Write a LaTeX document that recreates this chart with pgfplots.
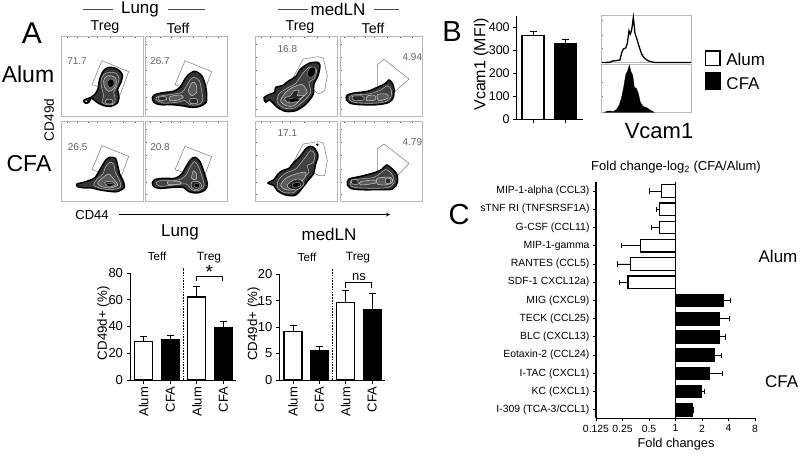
\documentclass[border=0pt]{standalone}
\usepackage{fontspec}
\setmainfont{Liberation Sans}
\usepackage{pgfplots}
\pgfplotsset{compat=1.18}
\newcommand\fs[1]{\fontsize{#1}{#1}\selectfont}
\pgfplotsset{
 facs/.style={scale only axis,width=82pt,height=80pt,y dir=reverse,clip=false,
  axis line style={black!28,line width=.9pt},xticklabels={},yticklabels={},
  tick style={black!65,line width=.4pt},major tick length=1.5pt,tick align=inside,
  xtick pos=upper,ytick pos=lower},
 gate/.style={draw=black!50,line width=.55pt},
 outer/.style={smooth cycle,tension=.5,draw=black,line width=1.5pt,fill=black!80},
 r1/.style={smooth cycle,tension=.5,draw=black!30,line width=.55pt,fill=black!74},
 r2/.style={smooth cycle,tension=.5,draw=black!22,line width=.55pt,fill=black!64},
 r3/.style={smooth cycle,tension=.5,draw=black!22,line width=.5pt,fill=black!84},
 core/.style={smooth cycle,tension=.5,draw=black!40,line width=.4pt,fill=black},
 barax/.style={scale only axis,axis x line*=bottom,axis y line*=left,axis line style={-,line width=1pt},
  tick style={black,line width=1pt},major tick length=3.5pt,tick align=outside,
  /pgf/number format/assume math mode=true,clip=false,ymin=0,
  ybar,bar shift=0pt},
 werr/.style={fill=white,draw=black,line width=1.2pt},
 kerr/.style={fill=black,draw=black,line width=1.2pt},
 ebar/.style={error bars/.cd,y dir=plus,y explicit,
  error bar style={line width=.9pt,black},error mark options={black,line width=.9pt,mark size=3.5pt,rotate=90}},
 hbar/.style={error bars/.cd,x dir=#1,x explicit,
  error bar style={line width=.9pt,black},error mark options={black,line width=.9pt,mark size=2.6pt,rotate=90}},
}
\begin{document}
\begin{tikzpicture}[x=1pt,y=1pt]
\useasboundingbox (0,0) rectangle (800,453);
% ---- FACS panels (coordinates in 3x pixels of the panel)
\begin{axis}[facs,at={(61pt,336.33pt)},anchor=south west,xmin=2,xmax=248,ymin=8,ymax=248,xtick={22,50,85,110,150,190,225},ytick={30,70,110,150,190,225}]
\addplot[gate] coordinates {(125,80)(205,113)(180,180)(95,152)} -- cycle;
\addplot[outer] coordinates {(150,100)(172,106)(186,122)(182,145)(172,165)(176,190)(170,208)(150,217)(128,214)(112,206)(100,197)(92,192)(86,205)(75,207)(70,200)(78,195)(92,190)(103,182)(113,165)(117,140)(125,118)(135,105)};
\addplot[r1] coordinates {(148,115)(168,118)(176,135)(168,160)(160,175)(165,195)(160,210)(140,212)(125,205)(130,185)(125,165)(122,140)(130,122)};
\addplot[r2] coordinates {(148,125)(164,130)(168,145)(160,165)(145,172)(133,160)(130,140)(137,128)};
\addplot[core] coordinates {(148,135)(160,140)(160,155)(148,160)(140,150)};
\addplot[r3] coordinates {(140,196)(155,197)(157,208)(142,210)(134,204)};
\addplot[draw=black,fill=white,line width=.9pt] coordinates {(72,198)(80,198)(84,203)(76,206)} -- cycle;
\node[font=\fs{10},text=black!62] at (axis cs:50,82) {71.7};
\end{axis}
\begin{axis}[facs,at={(145pt,336.33pt)},anchor=south west,xmin=255,xmax=501,ymin=8,ymax=248,xtick={272,300,335,360,400,440,475},ytick={30,70,110,150,190,225}]
\addplot[gate] coordinates {(375,80)(455,113)(430,180)(345,152)} -- cycle;
\addplot[outer] coordinates {(405,112)(425,125)(435,150)(440,180)(438,205)(420,217)(395,220)(365,215)(335,212)(300,212)(282,205)(277,192)(285,182)(310,176)(340,172)(360,160)(372,140)(385,122)};
\addplot[r1] coordinates {(402,130)(418,140)(425,170)(428,200)(415,212)(390,212)(375,200)(350,205)(310,207)(288,197)(295,187)(330,182)(365,175)(380,155)(390,138)};
\addplot[r2] coordinates {(397,145)(408,150)(410,175)(395,185)(385,170)};
\addplot[r3] coordinates {(390,195)(410,195)(412,207)(392,208)};
\addplot[r2] coordinates {(330,188)(360,183)(370,190)(355,198)(330,200)};
\addplot[r3] coordinates {(295,190)(315,188)(320,196)(300,200)};
\node[font=\fs{10},text=black!62] at (axis cs:300,82) {26.7};
\end{axis}
\begin{axis}[facs,at={(61pt,251.67pt)},anchor=south west,xmin=2,xmax=248,ymin=7,ymax=247,xtick={22,50,85,110,150,190,225},ytick={30,70,110,150,190,225}]
\addplot[gate] coordinates {(125,80)(205,112)(180,180)(95,152)} -- cycle;
\addplot[outer] coordinates {(148,115)(165,118)(172,140)(178,165)(188,185)(192,205)(170,218)(140,216)(115,212)(95,207)(75,207)(52,203)(50,195)(70,190)(90,183)(105,175)(120,150)(135,125)};
\addplot[r1] coordinates {(148,130)(160,135)(165,160)(178,185)(180,205)(150,212)(120,208)(100,198)(112,178)(128,165)(135,145)};
\addplot[r2] coordinates {(125,178)(145,165)(160,180)(172,198)(150,207)(125,203)(112,193)};
\addplot[r3] coordinates {(133,190)(155,187)(165,197)(145,204)};
\addplot[core] coordinates {(140,195)(155,193)(158,200)(142,202)};
\node[font=\fs{10},text=black!62] at (axis cs:52,85) {26.5};
\end{axis}
\begin{axis}[facs,at={(145pt,251.67pt)},anchor=south west,xmin=255,xmax=501,ymin=7,ymax=247,xtick={272,300,335,360,400,440,475},ytick={30,70,110,150,190,225}]
\addplot[gate] coordinates {(375,82)(455,113)(430,180)(345,152)} -- cycle;
\addplot[outer] coordinates {(405,115)(420,128)(432,160)(442,195)(435,213)(410,222)(385,217)(370,205)(340,205)(300,208)(282,203)(277,192)(285,182)(310,178)(345,178)(365,165)(380,140)(392,122)};
\addplot[r1] coordinates {(403,128)(415,142)(425,170)(432,200)(415,215)(395,212)(378,195)(340,198)(300,202)(288,192)(300,185)(345,185)(375,172)(390,145)};
\addplot[r2] coordinates {(400,155)(410,165)(408,182)(395,178)};
\addplot[r3] coordinates {(395,190)(415,188)(425,200)(410,212)(395,205)};
\addplot[core] coordinates {(403,195)(418,195)(418,204)(405,205)};
\addplot[r2] coordinates {(325,186)(360,188)(360,195)(325,197)};
\node[font=\fs{10},text=black!62] at (axis cs:300,85) {20.8};
\end{axis}
\begin{axis}[facs,at={(255pt,336.33pt)},anchor=south west,xmin=3,xmax=249,ymin=8,ymax=248,xtick={22,50,85,110,150,190,225},ytick={30,70,110,150,190,225}]
\addplot[gate] coordinates {(118,130)(148,75)(192,68)(208,72)(220,125)(212,170)(195,180)} -- cycle;
\addplot[outer] coordinates {(190,85)(198,95)(192,125)(180,150)(178,180)(165,200)(150,215)(125,230)(95,232)(70,220)(55,205)(45,198)(35,205)(30,192)(42,183)(62,175)(65,160)(85,155)(105,140)(125,128)(140,105)(165,88)};
\addplot[r1] coordinates {(180,100)(188,110)(180,135)(165,145)(170,175)(150,200)(120,222)(90,222)(70,205)(75,180)(100,162)(125,148)(145,120)(165,100)};
\addplot[core] coordinates {(170,100)(185,103)(180,125)(165,130)(160,115)};
\addplot[r2] coordinates {(120,158)(145,152)(160,175)(145,190)(120,215)(95,215)(80,200)(95,175)};
\addplot[r3] coordinates {(120,170)(135,170)(130,185)(150,185)(120,205)(100,205)(92,192)(110,185)};
\addplot[core] coordinates {(105,195)(130,192)(135,200)(110,205)};
\node[font=\fs{10},text=black!62] at (axis cs:100,45) {16.8};
\end{axis}
\begin{axis}[facs,at={(340pt,336.33pt)},anchor=south west,xmin=258,xmax=504,ymin=8,ymax=248,xtick={272,300,335,360,400,440,475},ytick={30,70,110,150,190,225}]
\addplot[gate] coordinates {(370,92)(390,76)(465,135)(420,175)(370,160)} -- cycle;
\addplot[outer] coordinates {(405,138)(415,148)(420,165)(418,190)(405,205)(370,212)(320,212)(290,208)(278,198)(278,185)(295,178)(340,172)(370,160)(395,148)};
\addplot[r1] coordinates {(400,155)(412,168)(410,190)(395,203)(350,208)(300,205)(285,195)(295,183)(345,180)(380,168)};
\addplot[r2] coordinates {(370,182)(398,180)(402,192)(375,200)};
\addplot[r2] coordinates {(340,186)(362,184)(365,197)(338,200)};
\addplot[r3] coordinates {(295,187)(325,186)(330,197)(300,200)};
\node[font=\fs{10},text=black!62] at (axis cs:475,68) {4.94};
\end{axis}
\begin{axis}[facs,at={(255pt,251.67pt)},anchor=south west,xmin=3,xmax=249,ymin=7,ymax=247,xtick={22,50,85,110,150,190,225},ytick={30,70,110,150,190,225}]
\addplot[gate] coordinates {(118,130)(148,75)(192,68)(208,72)(220,125)(212,170)(195,170)} -- cycle;
\addplot[outer] coordinates {(168,82)(182,88)(192,110)(185,135)(178,165)(165,180)(150,200)(125,228)(95,228)(70,215)(60,200)(42,192)(60,182)(72,165)(85,155)(105,148)(115,135)(140,110)(155,90)};
\addplot[r1] coordinates {(170,95)(182,105)(178,130)(160,140)(165,160)(150,175)(140,195)(120,220)(90,220)(70,205)(75,180)(100,160)(125,150)(150,120)};
\addplot[r2] coordinates {(125,165)(155,160)(150,180)(130,195)(120,212)(95,212)(80,200)(95,178)};
\addplot[r3] coordinates {(115,185)(135,180)(150,195)(130,212)(105,208)(100,198)};
\addplot[core] coordinates {(115,195)(135,190)(140,200)(120,205)};
\addplot[only marks,mark=*,mark size=1pt,black] coordinates {(190,77)};
\node[font=\fs{10},text=black!62] at (axis cs:100,42) {17.1};
\end{axis}
\begin{axis}[facs,at={(340pt,251.67pt)},anchor=south west,xmin=258,xmax=504,ymin=7,ymax=247,xtick={272,300,335,360,400,440,475},ytick={30,70,110,150,190,225}]
\addplot[gate] coordinates {(370,90)(390,75)(465,133)(425,175)(370,155)} -- cycle;
\addplot[outer] coordinates {(398,138)(415,150)(428,165)(430,190)(415,210)(370,212)(320,212)(290,208)(280,195)(285,180)(320,172)(365,160)(385,150)};
\addplot[r1] coordinates {(395,152)(415,168)(420,190)(405,205)(360,208)(300,205)(288,193)(300,182)(360,175)};
\addplot[r2] coordinates {(370,178)(410,175)(415,190)(395,198)(370,195)};
\addplot[r3] coordinates {(395,178)(410,180)(408,192)(395,192)};
\addplot[r2] coordinates {(320,188)(360,183)(365,192)(320,198)};
\addplot[r3] coordinates {(292,183)(310,183)(312,195)(295,195)};
\node[font=\fs{10},text=black!62] at (axis cs:475,68) {4.79};
\end{axis}
% ---- Lung bars
\begin{axis}[barax,at={(130pt,73pt)},anchor=south west,width=106pt,height=107pt,bar width=18pt,
 xmin=-0.515,xmax=3.47,ymax=80,ytick={0,20,40,60,80},xtick={0,1,2,3},xticklabels={Alum,CFA,Alum,CFA},
 xticklabel style={rotate=90,anchor=east,font=\fs{13}},yticklabel style={font=\fs{13}},
 ylabel={CD49d+ (\%)},ylabel style={font=\fs{13.3},at={(axis description cs:-0.16,0.53)},anchor=south}]
\addplot[werr,ebar] coordinates {(0,29)+-(0,3.2) (2,62)+-(0,8.3)};
\addplot[kerr,ebar] coordinates {(1,30.5)+-(0,2.5) (3,39)+-(0,4.6)};
\addplot[black,dashed,line width=.7pt,dash pattern=on 1.6pt off 1.2pt,sharp plot] coordinates {(1.5,0)(1.5,84)};
\addplot[black,line width=.9pt,sharp plot] coordinates {(2,74)(2,77.5)(2.95,77.5)(2.95,74)};
\node[font=\fs{19}] at (axis cs:2.47,80.5) {*};
\end{axis}
% ---- medLN bars
\begin{axis}[barax,at={(279.3pt,73pt)},anchor=south west,width=105.7pt,height=105.7pt,bar width=18pt,
 xmin=-0.52,xmax=3.485,ymax=20,ytick={0,5,10,15,20},xtick={0,1,2,3},xticklabels={Alum,CFA,Alum,CFA},
 xticklabel style={rotate=90,anchor=east,font=\fs{13}},yticklabel style={font=\fs{13}},
 ylabel={CD49d+ (\%)},ylabel style={font=\fs{13.3},at={(axis description cs:-0.15,0.53)},anchor=south}]
\addplot[werr,ebar] coordinates {(0,9.2)+-(0,1.1) (2,14.7)+-(0,2.3)};
\addplot[kerr,ebar] coordinates {(1,5.5)+-(0,0.9) (3,13.4)+-(0,2.9)};
\addplot[black,dashed,line width=.7pt,dash pattern=on 1.6pt off 1.2pt,sharp plot] coordinates {(1.5,0)(1.5,21)};
\addplot[black,line width=.9pt,sharp plot] coordinates {(2,17.5)(2,18.4)(2.97,18.4)(2.97,17.5)};
\node[font=\fs{13}] at (axis cs:2.5,19.4) {ns};
\end{axis}
% ---- B bars
\begin{axis}[barax,at={(516.7pt,333.7pt)},anchor=south west,width=66pt,height=103.6pt,bar width=22pt,
 xmin=-0.505,xmax=1.54,ymax=450,ytick={0,100,200,300,400},xtick={0,1},xticklabels={},
 yticklabel style={font=\fs{12.5}},
 ylabel={Vcam1 (MFI)},ylabel style={font=\fs{16},at={(axis description cs:-0.37,0.53)},anchor=south}]
\addplot[werr,ebar] coordinates {(0,364)+-(0,16)};
\addplot[kerr,ebar] coordinates {(1,329)+-(0,17)};
\end{axis}
% ---- histograms
\begin{axis}[scale only axis,at={(601pt,390.5pt)},anchor=south west,width=90pt,height=47.5pt,y dir=reverse,clip=false,
 xmin=18,xmax=288,ymin=15,ymax=157.5,axis line style={black!28,line width=.8pt},xtick=\empty,ytick={30,75,115},yticklabels={},tick style={black!50,line width=.3pt},major tick length=1.5pt,tick align=inside,ytick pos=lower]
\addplot[black,line width=1.3pt,sharp plot] coordinates {(20,157.5)(45,157)(52,153)(62,152)(75,150)(80,128)(85,117)(92,114)(97,100)(102,62)(106,72)(110,60)(115,22)(120,70)(126,88)(133,112)(140,132)(147,143)(158,152)(172,156)(180,157.5)(288,157.5)};
\end{axis}
\begin{axis}[scale only axis,at={(601pt,340.7pt)},anchor=south west,width=90pt,height=48.3pt,y dir=reverse,clip=false,
 xmin=18,xmax=288,ymin=162,ymax=307,axis line style={black!28,line width=.8pt},xtick={45,75,110,150,190,230,265},ytick={215,260},xticklabels={},yticklabels={},tick style={black!50,line width=.3pt},major tick length=1.5pt,tick align=inside,ytick pos=lower,xtick pos=upper]
\addplot[fill=black,draw=black,line width=.3pt,sharp plot] coordinates {(28,307)(36,304)(45,303)(55,305)(65,298)(73,285)(80,262)(86,232)(92,195)(98,182)(103,165)(108,185)(113,195)(118,232)(124,235)(130,250)(136,277)(145,290)(155,293)(165,300)(178,307)} -- cycle;
\end{axis}
% ---- C
\begin{axis}[scale only axis,at={(596pt,34.7pt)},anchor=south west,width=159pt,height=236.6pt,y dir=reverse,clip=false,
 axis x line*=bottom,axis y line*=left,axis line style={-,line width=1.1pt},xbar,bar shift=0pt,bar width=12.4pt,
 tick style={black,line width=.9pt},major tick length=3pt,tick align=outside,
 /pgf/number format/assume math mode=true,
 xmin=-3,xmax=3,ymin=-0.51,ymax=12.46,xtick={-3,-2,-1,0,1,2,3},xticklabels={0.125,0.25,0.5,1,2,4,8},
 ytick={0,1,2,3,4,5,6,7,8,9,10,11,12},
 yticklabels={MIP-1-alpha (CCL3),sTNF RI (TNFSRSF1A),G-CSF (CCL11),MIP-1-gamma,RANTES (CCL5),SDF-1 CXCL12a),MIG (CXCL9),TECK (CCL25),BLC (CXCL13),Eotaxin-2 (CCL24),I-TAC (CXCL1),KC (CXCL1),I-309 (TCA-3/CCL1)},
 tick label style={font=\fs{10.4}}]
\addplot[werr,hbar=minus] coordinates {(-0.527,0)+-(0.452,0) (-0.59,1)+-(0.138,0) (-0.59,2)+-(0.30,0) (-1.317,3)+-(0.741,0) (-1.706,4)+-(0.49,0) (-1.794,5)+-(0.326,0)};
\addplot[kerr,hbar=plus] coordinates {(1.82,6)+-(0.25,0) (1.669,7)+-(0.364,0) (1.644,8)+-(0.226,0) (1.455,9)+-(0.289,0) (1.267,10)+-(0.515,0) (0.966,11)+-(0.124,0) (0.64,12)+-(0.025,0)};
\addplot[black,line width=1.1pt,sharp plot] coordinates {(0,-0.51)(0,12.46)};
\end{axis}
% ---- text and decorations in image pixels
\begin{axis}[scale only axis,at={(0pt,0pt)},anchor=south west,width=800pt,height=453pt,xmin=0,xmax=800,ymin=0,ymax=453,y dir=reverse,hide axis,clip=false]
\addplot[black!70,line width=.8pt,sharp plot] coordinates {(83,9)(113,9)};
\addplot[black!70,line width=.8pt,sharp plot] coordinates {(168,9)(205,9)};
\addplot[black!70,line width=.8pt,sharp plot] coordinates {(278,9)(308,9)};
\addplot[black!70,line width=.8pt,sharp plot] coordinates {(374,9)(399,9)};
\addplot[black,line width=.8pt,-stealth,sharp plot] coordinates {(119,214.5)(390,214.5)};
\addplot[draw=black,fill=white,line width=1.4pt] coordinates {(705.5,51)(720,51)(720,65.5)(705.5,65.5)} -- cycle;
\addplot[draw=black,fill=black,line width=1.2pt] coordinates {(705.5,73)(720,73)(720,89.5)(705.5,89.5)} -- cycle;
\node[font=\fs{30}] at (axis cs:32,33) {A};
\node[font=\fs{29}] at (axis cs:452,32) {B};
\node[font=\fs{29}] at (axis cs:459,215) {C};
\node[font=\fs{23}] at (axis cs:28,74) {Alum};
\node[font=\fs{23}] at (axis cs:29,164) {CFA};
\node[font=\fs{17}] at (axis cs:140,9) {Lung};
\node[font=\fs{17}] at (axis cs:338,9) {medLN};
\node[font=\fs{14.3}] at (axis cs:105,27) {Treg};
\node[font=\fs{14.3}] at (axis cs:178,28) {Teff};
\node[font=\fs{14.3}] at (axis cs:300,27) {Treg};
\node[font=\fs{14.3}] at (axis cs:373,28) {Teff};
\node[font=\fs{13.6},rotate=90] at (axis cs:49,120) {CD49d};
\node[font=\fs{13}] at (axis cs:92,215) {CD44};
\node[font=\fs{17}] at (axis cs:180,232) {Lung};
\node[font=\fs{17}] at (axis cs:329,234) {medLN};
\node[font=\fs{11.6}] at (axis cs:157,256) {Teff};
\node[font=\fs{12}] at (axis cs:209,258) {Treg};
\node[font=\fs{11.6}] at (axis cs:307,257) {Teff};
\node[font=\fs{12}] at (axis cs:358,258) {Treg};
\node[font=\fs{17}] at (axis cs:745.7,59.3) {Alum};
\node[font=\fs{17}] at (axis cs:743,84) {CFA};
\node[font=\fs{22}] at (axis cs:659,130.7) {Vcam1};
\node[font=\fs{13}] at (axis cs:676,166.7) {Fold change-log\textsubscript{2} (CFA/Alum)};
\node[font=\fs{12.8}] at (axis cs:676,444.3) {Fold changes};
\node[font=\fs{17}] at (axis cs:778,256.7) {Alum};
\node[font=\fs{17}] at (axis cs:781.7,381.7) {CFA};
\end{axis}
\end{tikzpicture}
\end{document}
